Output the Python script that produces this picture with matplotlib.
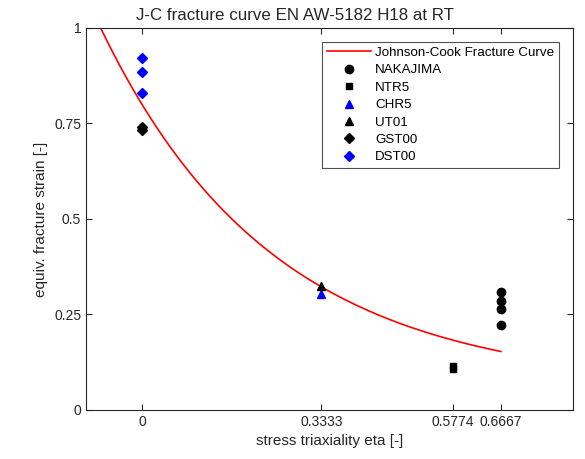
import numpy as np
import matplotlib
matplotlib.use("Agg")
import matplotlib.pyplot as plt

plt.rcParams['font.family'] = ['Liberation Sans', 'DejaVu Sans']

# Johnson-Cook fracture curve parameters
D1, D2, D3 = 0.0605, 0.7395, -3.119
eta_curve = np.linspace(-0.1, 0.6667, 200)

# test points
nakajima_eta = [0.6667, 0.6667, 0.6667, 0.6667]
nakajima_eps = [0.310, 0.284, 0.264, 0.223]
ntr5_eta = [0.5774, 0.5774]
ntr5_eps = [0.115, 0.107]
chr5_eta = [0.3333]
chr5_eps = [0.303]
ut01_eta = [0.3333]
ut01_eps = [0.325]
gst00_eta = [0.0, 0.0]
gst00_eps = [0.742, 0.733]
dst00_eta = [0.0, 0.0, 0.0]
dst00_eps = [0.921, 0.886, 0.831]

xticks = [0, 0.3333, 0.5774, 0.6667]
xticklabels = ['0', '0.3333', '0.5774', '0.6667']
yticks = [0, 0.25, 0.5, 0.75, 1]
yticklabels = ['0', '0.25', '0.5', '0.75', '1']

fig = plt.figure(figsize=(5.85, 4.59), dpi=100)
ax = fig.add_axes([0.147, 0.107, 0.832, 0.832])

ax.plot(eta_curve, D1 + D2 * np.exp(D3 * eta_curve), '-', color='r', lw=1.2,
        label='Johnson-Cook Fracture Curve')
ax.plot(nakajima_eta, nakajima_eps, 'o', color='k', ms=6, ls='none', label='NAKAJIMA')
ax.plot(ntr5_eta, ntr5_eps, 's', color='k', ms=5, ls='none', label='NTR5')
ax.plot(chr5_eta, chr5_eps, '^', color='b', ms=6, ls='none', label='CHR5')
ax.plot(ut01_eta, ut01_eps, '^', color='k', ms=6, ls='none', label='UT01')
ax.plot(gst00_eta, gst00_eps, 'D', color='k', ms=5, ls='none', label='GST00')
ax.plot(dst00_eta, dst00_eps, 'D', color='b', ms=5, ls='none', label='DST00')

ax.set_xlim(-0.104, 0.8)
ax.set_ylim(0, 1)
ax.set_xticks(xticks)
ax.set_xticklabels(xticklabels)
ax.set_yticks(yticks)
ax.set_yticklabels(yticklabels)
ax.tick_params(direction='in', top=True, right=True, labelsize=10, length=4,
               colors='#262626')
for s in ax.spines.values():
    s.set_color('#262626')
    s.set_linewidth(0.8)

ax.set_xlabel('stress triaxiality eta [-]', fontsize=11, color='#262626')
ax.set_ylabel('equiv. fracture strain [-]', fontsize=11, color='#262626')
# title sits centred on the figure, not the axes
ax.set_title('J-C fracture curve EN AW-5182 H18 at RT', fontsize=12.2,
             color='#262626', x=0.429)

leg = ax.legend(loc='upper right', fontsize=9.6, frameon=True, fancybox=False,
                edgecolor='#262626', borderaxespad=1.05, handlelength=3.3,
                handletextpad=0.3, borderpad=0.35, labelspacing=0.38)
leg.get_frame().set_linewidth(0.8)

fig.savefig('out.png', dpi=100)
